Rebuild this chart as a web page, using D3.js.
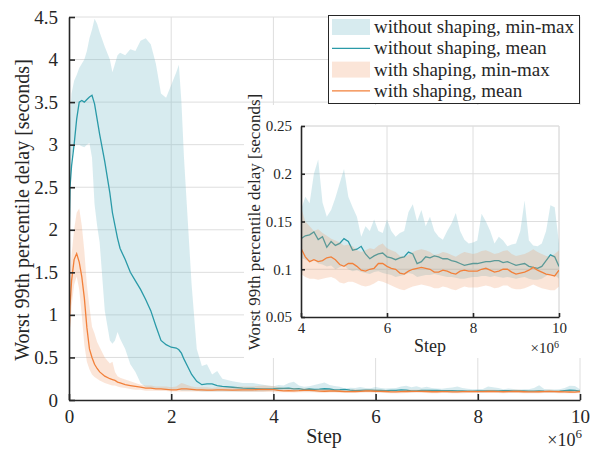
<!DOCTYPE html>
<html>
<head>
<meta charset="utf-8">
<script src="https://cdn.jsdelivr.net/npm/d3@7"></script>
<style>
  body { margin: 0; background: #fff; }
  svg text { font-family: "Liberation Serif", "Times New Roman", serif; fill: #262626; }
</style>
</head>
<body>
<div id="chart"></div>
<script>
// steps in units of 1e6
const stepsEarly = [0, 0.02, 0.05, 0.1, 0.15, 0.2, 0.25, 0.3, 0.35, 0.4, 0.45, 0.5, 0.55, 0.6, 0.7, 0.8, 0.85, 0.9, 0.95, 1.0,
  1.1, 1.2, 1.3, 1.4, 1.5, 1.6, 1.7, 1.8, 1.9, 2.0, 2.1, 2.15, 2.2, 2.25, 2.3, 2.4, 2.5, 2.6, 2.7, 2.8, 2.9, 3.0, 3.2, 3.4, 3.6, 3.8]

const noShapeMeanEarly = [1.8, 2.5, 2.75, 3.0, 3.3, 3.5, 3.52, 3.5, 3.53, 3.56, 3.58, 3.48, 3.3, 3.12, 2.8, 2.43, 2.2, 2.05, 1.9, 1.78,
  1.65, 1.5, 1.4, 1.3, 1.18, 1.05, 0.87, 0.7, 0.65, 0.62, 0.61, 0.59, 0.55, 0.48, 0.42, 0.3, 0.22, 0.18, 0.19, 0.19, 0.17, 0.16, 0.15, 0.14, 0.135, 0.13]
const noShapeMaxEarly = [2.6, 3.3, 3.6, 3.75, 3.82, 3.9, 3.95, 4.0, 4.1, 4.25, 4.35, 4.48, 4.42, 4.32, 4.15, 4.0, 3.85, 3.95, 4.05, 4.08,
  4.05, 4.12, 4.1, 4.22, 4.25, 4.18, 3.95, 3.6, 3.55, 3.7, 3.85, 3.94, 3.5, 2.85, 2.35, 1.35, 0.6, 0.4, 0.42, 0.3, 0.34, 0.25, 0.22, 0.2, 0.2, 0.18]
const noShapeMinEarly = [1.7, 2.3, 2.85, 3.0, 3.0, 3.0, 2.98, 2.97, 3.0, 3.02, 2.85, 2.3, 2.05, 1.85, 1.05, 0.7, 0.66, 0.7, 0.8, 0.72,
  0.6, 0.42, 0.33, 0.2, 0.15, 0.14, 0.13, 0.13, 0.12, 0.12, 0.12, 0.12, 0.11, 0.11, 0.11, 0.11, 0.11, 0.1, 0.1, 0.1, 0.1, 0.1, 0.1, 0.1, 0.1, 0.1]

const shapeMeanEarly = [0.7, 1.1, 1.4, 1.65, 1.72, 1.62, 1.45, 1.2, 0.85, 0.6, 0.5, 0.42, 0.37, 0.33, 0.28, 0.25, 0.24, 0.23, 0.21, 0.2,
  0.18, 0.17, 0.16, 0.15, 0.14, 0.14, 0.13, 0.13, 0.125, 0.12, 0.12, 0.125, 0.13, 0.13, 0.13, 0.125, 0.12, 0.12, 0.115, 0.115, 0.12, 0.12, 0.115, 0.12, 0.12, 0.125]
const shapeMaxEarly = [1.0, 1.4, 1.7, 2.0, 2.2, 2.25, 2.05, 1.75, 1.35, 1.1, 0.86, 0.78, 0.68, 0.62, 0.5, 0.43, 0.45, 0.33, 0.28, 0.26,
  0.24, 0.22, 0.2, 0.18, 0.17, 0.17, 0.16, 0.16, 0.16, 0.15, 0.16, 0.18, 0.2, 0.19, 0.18, 0.16, 0.15, 0.15, 0.15, 0.14, 0.15, 0.15, 0.15, 0.16, 0.16, 0.17]
const shapeMinEarly = [0.55, 0.8, 1.1, 1.35, 1.45, 1.3, 1.0, 0.65, 0.45, 0.36, 0.3, 0.27, 0.25, 0.23, 0.2, 0.18, 0.17, 0.17, 0.16, 0.15,
  0.14, 0.13, 0.12, 0.12, 0.11, 0.11, 0.11, 0.105, 0.105, 0.1, 0.1, 0.1, 0.1, 0.1, 0.1, 0.1, 0.1, 0.1, 0.1, 0.1, 0.1, 0.1, 0.1, 0.095, 0.095, 0.095]

const stepsLate = [4.0, 4.1, 4.2, 4.3, 4.4, 4.5, 4.6, 4.7, 4.8, 4.9, 5.0, 5.1, 5.2, 5.3, 5.4, 5.5, 5.6, 5.7, 5.8, 5.9,
  6.0, 6.1, 6.2, 6.3, 6.4, 6.5, 6.6, 6.7, 6.8, 6.9, 7.0, 7.1, 7.2, 7.3, 7.4, 7.5, 7.6, 7.7, 7.8, 7.9,
  8.0, 8.1, 8.2, 8.3, 8.4, 8.5, 8.6, 8.7, 8.8, 8.9, 9.0, 9.1, 9.2, 9.3, 9.4, 9.5, 9.6, 9.7, 9.8, 9.9, 10.0]

const noShapeMeanLate = [0.132, 0.135, 0.136, 0.139, 0.131, 0.134, 0.123, 0.129, 0.125, 0.127, 0.132, 0.129, 0.12, 0.121, 0.124, 0.116, 0.111, 0.114, 0.116, 0.117,
  0.113, 0.112, 0.11, 0.112, 0.113, 0.118, 0.116, 0.106, 0.108, 0.113, 0.112, 0.114, 0.113, 0.111, 0.111, 0.109, 0.108, 0.106, 0.104, 0.105,
  0.106, 0.106, 0.107, 0.108, 0.108, 0.109, 0.109, 0.107, 0.108, 0.106, 0.104, 0.105, 0.106, 0.103, 0.102, 0.101, 0.103, 0.109, 0.115, 0.113, 0.103]
const noShapeMaxLate = [0.162, 0.176, 0.169, 0.2, 0.215, 0.17, 0.155, 0.162, 0.175, 0.19, 0.205, 0.176, 0.165, 0.155, 0.134, 0.145, 0.14, 0.152, 0.14, 0.138,
  0.152, 0.14, 0.134, 0.138, 0.14, 0.16, 0.168, 0.15, 0.162, 0.145, 0.155, 0.14, 0.134, 0.131, 0.14, 0.148, 0.159, 0.14, 0.131, 0.127,
  0.128, 0.13, 0.158, 0.15, 0.14, 0.127, 0.134, 0.13, 0.124, 0.126, 0.127, 0.14, 0.172, 0.13, 0.125, 0.124, 0.127, 0.14, 0.167, 0.165, 0.127]
const noShapeMinLate = [0.112, 0.11, 0.108, 0.11, 0.106, 0.105, 0.103, 0.104, 0.1, 0.102, 0.104, 0.1, 0.098, 0.099, 0.097, 0.096, 0.095, 0.097, 0.098, 0.096,
  0.095, 0.094, 0.092, 0.093, 0.094, 0.096, 0.095, 0.092, 0.093, 0.094, 0.094, 0.095, 0.094, 0.093, 0.092, 0.092, 0.091, 0.09, 0.09, 0.091,
  0.092, 0.092, 0.093, 0.093, 0.092, 0.093, 0.092, 0.091, 0.092, 0.091, 0.09, 0.091, 0.092, 0.09, 0.089, 0.089, 0.09, 0.093, 0.095, 0.094, 0.09]

const shapeMeanLate = [0.122, 0.113, 0.108, 0.11, 0.108, 0.109, 0.112, 0.113, 0.11, 0.105, 0.103, 0.106, 0.106, 0.103, 0.099, 0.098, 0.1, 0.101, 0.106, 0.106,
  0.103, 0.101, 0.1, 0.096, 0.095, 0.098, 0.1, 0.101, 0.102, 0.101, 0.1, 0.097, 0.097, 0.099, 0.098, 0.096, 0.095, 0.098, 0.099, 0.098,
  0.098, 0.098, 0.1, 0.101, 0.099, 0.097, 0.098, 0.1, 0.1, 0.097, 0.095, 0.096, 0.097, 0.099, 0.102, 0.099, 0.097, 0.095, 0.094, 0.093, 0.099]
const shapeMaxLate = [0.165, 0.15, 0.145, 0.14, 0.142, 0.138, 0.135, 0.132, 0.13, 0.128, 0.125, 0.126, 0.124, 0.12, 0.118, 0.12, 0.122, 0.121, 0.125, 0.127,
  0.122, 0.12, 0.118, 0.114, 0.113, 0.115, 0.118, 0.12, 0.121, 0.12, 0.118, 0.115, 0.116, 0.118, 0.117, 0.115, 0.113, 0.116, 0.118, 0.117,
  0.116, 0.117, 0.119, 0.12, 0.118, 0.116, 0.117, 0.119, 0.12, 0.116, 0.114, 0.115, 0.116, 0.118, 0.121, 0.118, 0.116, 0.114, 0.113, 0.116, 0.12]
const shapeMinLate = [0.095, 0.092, 0.09, 0.09, 0.089, 0.09, 0.091, 0.092, 0.09, 0.086, 0.085, 0.087, 0.087, 0.085, 0.083, 0.082, 0.083, 0.085, 0.088, 0.087,
  0.085, 0.083, 0.081, 0.079, 0.078, 0.08, 0.082, 0.083, 0.084, 0.083, 0.082, 0.08, 0.08, 0.082, 0.081, 0.079, 0.078, 0.08, 0.082, 0.081,
  0.081, 0.081, 0.082, 0.083, 0.082, 0.08, 0.081, 0.083, 0.083, 0.08, 0.079, 0.079, 0.08, 0.082, 0.084, 0.082, 0.08, 0.079, 0.078, 0.078, 0.082]

const mainXTicks = [0, 2, 4, 6, 8, 10]
const mainYTicks = [0, 0.5, 1, 1.5, 2, 2.5, 3, 3.5, 4, 4.5]
const insetXTicks = [4, 6, 8, 10]
const insetYTicks = [0.05, 0.1, 0.15, 0.2, 0.25]
const legendLabels = ['without shaping, min-max', 'without shaping, mean', 'with shaping, min-max', 'with shaping, mean']

const teal = '#2a9aa8'
const orange = '#f2803a'

const W = 600
const H = 451
const svg = d3.select('#chart').append('svg').attr('width', W).attr('height', H)

function rows (steps, mean, lo, hi) {
  return steps.map((s, i) => ({ x: s, mean: mean[i], lo: lo[i], hi: hi[i] }))
}

const allSteps = stepsEarly.concat(stepsLate)
const noShapeAll = rows(allSteps, noShapeMeanEarly.concat(noShapeMeanLate), noShapeMinEarly.concat(noShapeMinLate), noShapeMaxEarly.concat(noShapeMaxLate))
const shapeAll = rows(allSteps, shapeMeanEarly.concat(shapeMeanLate), shapeMinEarly.concat(shapeMinLate), shapeMaxEarly.concat(shapeMaxLate))
const noShapeLate = rows(stepsLate, noShapeMeanLate, noShapeMinLate, noShapeMaxLate)
const shapeLate = rows(stepsLate, shapeMeanLate, shapeMinLate, shapeMaxLate)

// draws one axes box: grid, bands, lines, axes
function drawAxes (g, x, y, xTicks, yTicks, series, opt) {
  const [x0, x1] = x.range()
  const [y0, y1] = y.range()
  const clipId = 'clip' + opt.id
  g.append('clipPath').attr('id', clipId).append('rect')
    .attr('x', x0).attr('y', y1).attr('width', x1 - x0).attr('height', y0 - y1)

  const grid = g.append('g').attr('stroke', '#dedede').attr('stroke-width', 1)
  grid.selectAll('.gx').data(xTicks.slice(1)).enter().append('line')
    .attr('x1', (d) => x(d)).attr('x2', (d) => x(d)).attr('y1', y0).attr('y2', y1)
  grid.selectAll('.gy').data(yTicks.slice(1)).enter().append('line')
    .attr('y1', (d) => y(d)).attr('y2', (d) => y(d)).attr('x1', x0).attr('x2', x1)

  const plot = g.append('g').attr('clip-path', `url(#${clipId})`)
  const area = d3.area().x((d) => x(d.x)).y0((d) => y(d.lo)).y1((d) => y(d.hi))
  const line = d3.line().x((d) => x(d.x)).y((d) => y(d.mean))
  series.forEach((s) => {
    plot.append('path').datum(s.data).attr('d', area)
      .attr('fill', s.fill).attr('fill-opacity', s.fillOpacity).attr('stroke', 'none')
    plot.append('path').datum(s.data).attr('d', line)
      .attr('fill', 'none').attr('stroke', s.color).attr('stroke-width', 1.3)
  })

  const fmt = d3.format('')
  const xAxis = g.append('g').attr('transform', `translate(0,${y0})`)
    .call(d3.axisBottom(x).tickValues(xTicks).tickSizeInner(-opt.tick).tickSizeOuter(0).tickPadding(opt.tick + opt.xPad).tickFormat(fmt))
  const yAxis = g.append('g').attr('transform', `translate(${x0},0)`)
    .call(d3.axisLeft(y).tickValues(yTicks).tickSizeInner(-opt.tick).tickSizeOuter(0).tickPadding(opt.tick + 5).tickFormat(fmt))
  ;[xAxis, yAxis].forEach((a) => {
    a.select('.domain').attr('stroke', '#262626').attr('stroke-width', 1.6)
    a.selectAll('.tick line').attr('stroke', '#262626').attr('stroke-width', 1.6)
    a.selectAll('.tick text').attr('fill', '#262626').attr('font-size', opt.fs)
  })
}

// main axes
const mx = d3.scaleLinear([0, 10], [69, 580])
const my = d3.scaleLinear([0, 4.5], [400, 17])
const mainG = svg.append('g')
drawAxes(mainG, mx, my, mainXTicks, mainYTicks, [
  { data: noShapeAll, fill: 'rgb(122,190,202)', fillOpacity: 0.3, color: teal },
  { data: shapeAll, fill: 'rgb(240,150,100)', fillOpacity: 0.25, color: orange }
], { id: 'main', tick: 6, fs: 19, xPad: 4 })

svg.append('text').attr('x', 324).attr('y', 443).attr('text-anchor', 'middle')
  .attr('font-size', 20).text('Step')
const m6 = svg.append('text').attr('x', 582).attr('y', 446).attr('text-anchor', 'end').attr('font-size', 18)
m6.append('tspan').text('×10')
m6.append('tspan').attr('font-size', 13).attr('dy', -8).text('6')
svg.append('text').attr('transform', 'translate(29,210) rotate(-90)').attr('text-anchor', 'middle')
  .attr('font-size', 20).text('Worst 99th percentile delay [seconds]')

// inset
svg.append('rect').attr('x', 244).attr('y', 105).attr('width', 341).attr('height', 253).attr('fill', '#fff')
const ix = d3.scaleLinear([4, 10], [301, 559])
const iy = d3.scaleLinear([0.05, 0.25], [317, 126])
const insetG = svg.append('g')
insetG.append('line').attr('x1', 301).attr('x2', 559).attr('y1', 126).attr('y2', 126).attr('stroke', '#dedede')
insetG.append('line').attr('x1', 559).attr('x2', 559).attr('y1', 126).attr('y2', 317).attr('stroke', '#dedede')
drawAxes(insetG, ix, iy, insetXTicks, insetYTicks, [
  { data: noShapeLate, fill: 'rgb(122,190,202)', fillOpacity: 0.3, color: teal },
  { data: shapeLate, fill: 'rgb(240,150,100)', fillOpacity: 0.25, color: orange }
], { id: 'inset', tick: 4, fs: 15, xPad: 1 })

svg.append('text').attr('x', 430).attr('y', 352).attr('text-anchor', 'middle')
  .attr('font-size', 18).text('Step')
const i6 = svg.append('text').attr('x', 559).attr('y', 353).attr('text-anchor', 'end').attr('font-size', 15)
i6.append('tspan').text('×10')
i6.append('tspan').attr('font-size', 10).attr('dy', -5).text('6')
svg.append('text').attr('transform', 'translate(260,222) rotate(-90)').attr('text-anchor', 'middle')
  .attr('font-size', 17).text('Worst 99th percentile delay [seconds]')

// legend
const leg = svg.append('g')
leg.append('rect').attr('x', 328.5).attr('y', 15.5).attr('width', 251).attr('height', 88)
  .attr('fill', '#fff').attr('stroke', '#262626').attr('stroke-width', 1)
const legItems = [
  { type: 'band', fill: 'rgb(122,190,202)', op: 0.3 },
  { type: 'line', color: teal },
  { type: 'band', fill: 'rgb(240,150,100)', op: 0.25 },
  { type: 'line', color: orange }
]
legItems.forEach((it, i) => {
  const cy = 27 + i * 21.3
  if (it.type === 'band') {
    leg.append('rect').attr('x', 332).attr('y', cy - 8).attr('width', 38).attr('height', 16)
      .attr('fill', it.fill).attr('fill-opacity', it.op)
  } else {
    leg.append('line').attr('x1', 332).attr('x2', 370).attr('y1', cy).attr('y2', cy)
      .attr('stroke', it.color).attr('stroke-width', 1.3)
  }
  leg.append('text').attr('x', 374).attr('y', cy + 6).attr('font-size', 19).text(legendLabels[i])
})
</script>
</body>
</html>
